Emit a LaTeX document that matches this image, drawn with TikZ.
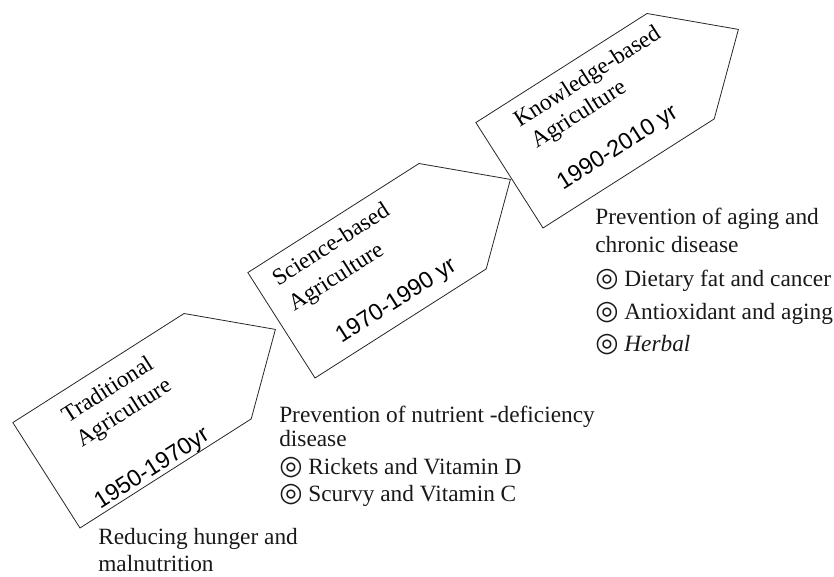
\documentclass[tikz,border=0pt]{standalone}
\usepackage{fontspec}
\setmainfont{Liberation Serif}
\newfontfamily\yearfont{Liberation Sans}
\newfontfamily\symfont{DejaVu Sans}
\usetikzlibrary{positioning}

\tikzset{
  stage/.style={draw=black!85, line width=0.6pt, line join=miter},
  stagename/.style={anchor=base west, inner sep=0pt, rotate=32.5,
                    font=\fontsize{17.5}{20}\selectfont},
  stageyear/.style={stagename, font=\yearfont\fontsize{17.5}{20}\selectfont},
  note/.style={anchor=base west, inner sep=0pt, text=black!90,
               font=\fontsize{17.5}{20}\selectfont}
}
\newcommand{\bull}{{\symfont\fontsize{20}{20}\selectfont ◎}\ }

\begin{document}
\begin{tikzpicture}[x=0.75pt, y=0.75pt]
  \useasboundingbox (0,0) rectangle (834,577);

  % traditional
  \begin{scope}[shift={(80,49)}, rotate=32.5]
    \draw[stage] (0,0) -- (203,0) -- (271.5,62.5) coordinate (tradtip)
                 -- (203,125) -- (0,125) -- cycle;
    \node[stagename] (trad1) at (46,95)  {Traditional};
    \node[stagename] (trad2) at (45,67)  {Agriculture};
    \node[stageyear] (trady) at (27,5)   {1950-1970yr};
  \end{scope}

  % science-based
  \begin{scope}[shift={(315,199)}, rotate=32.5]
    \draw[stage] (0,0) -- (203,0) -- (271.5,62.5) coordinate (scitip)
                 -- (203,125) -- (0,125) -- cycle;
    \node[stagename] (sci1) at (18,97)  {Science-based};
    \node[stagename] (sci2) at (18,67)  {Agriculture};
    \node[stageyear] (sciy) at (41,15)  {1970-1990 yr};
  \end{scope}

  % knowledge-based
  \begin{scope}[shift={(543,349)}, rotate=32.5]
    \draw[stage] (0,0) -- (203,0) -- (271.5,62.5) coordinate (knowtip)
                 -- (203,125) -- (0,125) -- cycle;
    \node[stagename] (know1) at (34,97)  {Knowledge-based};
    \node[stagename] (know2) at (37,70)  {Agriculture};
    \node[stageyear] (knowy) at (37,21)  {1990-2010 yr};
  \end{scope}

  % aims of each stage
  \node[note] (hunger1) at (98,32) {Reducing hunger and};
  \node[note] (hunger2) at (98,5)  {malnutrition};

  \node[note] (nutr1) at (279,154) {Prevention of nutrient -deficiency};
  \node[note] (nutr2) at (279,130) {disease};
  \node[note] (nutr3) at (279,102) {\bull Rickets and Vitamin D};
  \node[note] (nutr4) at (279,75)  {\bull Scurvy and Vitamin C};

  \node[note] (aging1) at (595,352) {Prevention of aging and};
  \node[note] (aging2) at (595,324) {chronic disease};
  \node[note] (aging3) at (595,290) {\bull Dietary fat and cancer};
  \node[note] (aging4) at (595,257) {\bull Antioxidant and aging};
  \node[note] (aging5) at (595,225) {\bull \textit{Herbal}};
\end{tikzpicture}
\end{document}
